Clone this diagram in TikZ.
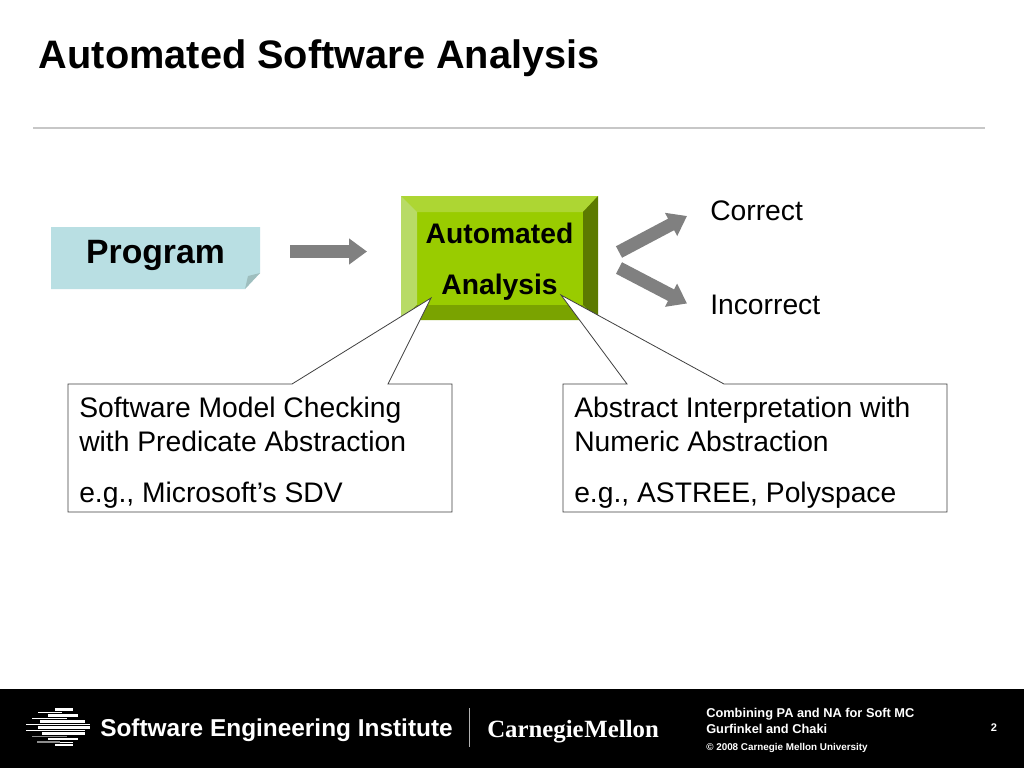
\documentclass[tikz,border=0pt]{standalone}
\usepackage{fontspec}
\setmainfont{Liberation Sans}
\newfontfamily\serifcm{Liberation Serif}
\usetikzlibrary{arrows.meta}
\tikzset{
 txt/.style={inner sep=0pt,anchor=base west,text=black,font=\fontsize{21.2}{25}\selectfont},
 blockarrow/.style={draw=arrowgray,line width=9.75pt,-{Triangle[length=13.5pt,width=18.75pt]}},
 callout/.style={draw=calloutline,fill=white,line width=0.6pt,line join=miter},
 foot/.style={inner sep=0pt,anchor=base west,text=white,font=\bfseries\fontsize{9.6}{11}\selectfont},
 thickstripe/.style={draw=white,line width=2pt},
 thinstripe/.style={draw=white,line width=0.6pt},
 graystripe/.style={draw=white!55!black,line width=1pt}
}
\definecolor{arrowgray}{HTML}{808080}
\definecolor{calloutline}{HTML}{404040}
\begin{document}
\begin{tikzpicture}[x=0.75pt,y=-0.75pt]
\useasboundingbox (0,0) rectangle (1024,768);
\fill[white] (0,0) rectangle (1024,768);
\fill[black] (0,689) rectangle (1024,768);
\draw[color=black!22,line width=0.8pt] (33,128) -- (985,128);
\node[inner sep=0pt,anchor=base west,font=\bfseries\fontsize{29.8}{34}\selectfont] (title) at (38.7,68) {Automated Software Analysis};
% Program
\fill[color={rgb,255:red,185;green,223;blue,227}] (51,227) -- (260,227) -- (260,273) -- (245,289) -- (51,289) -- cycle;
\fill[color={rgb,255:red,158;green,190;blue,190}] (260,273) -- (245,289) -- (248,276) -- cycle;
\node[inner sep=0pt,font=\bfseries\fontsize{25.3}{29}\selectfont,anchor=base] (program) at (155.5,263) {Program};
% Automated Analysis bevel
\fill[color={rgb,255:red,153;green,204;blue,0}] (401,196) rectangle (598,320);
\fill[color={rgb,255:red,173;green,214;blue,51}] (401,196) -- (598,196) -- (583,212) -- (417,212) -- cycle;
\fill[color={rgb,255:red,184;green,219;blue,102}] (401,196) -- (417,212) -- (417,305) -- (401,320) -- cycle;
\fill[color={rgb,255:red,92;green,122;blue,0}] (598,196) -- (583,212) -- (583,305) -- (598,320) -- cycle;
\fill[color={rgb,255:red,122;green,163;blue,0}] (401,320) -- (417,305) -- (583,305) -- (598,320) -- cycle;
\node[inner sep=0pt,font=\bfseries\fontsize{21.2}{25}\selectfont,anchor=base] (auto1) at (499.5,243.6) {Automated};
\node[inner sep=0pt,font=\bfseries\fontsize{21.2}{25}\selectfont,anchor=base] (auto2) at (499.5,294.6) {Analysis};
% Arrows
\coordinate (a0) at (290,251.5); \coordinate (a1) at (367,251.5);
\coordinate (b0) at (619,252); \coordinate (b1) at (687,216);
\coordinate (c0) at (619,268); \coordinate (c1) at (687,303.5);
\draw[blockarrow] (a0) -- (a1);
\draw[blockarrow] (b0) -- (b1);
\draw[blockarrow] (c0) -- (c1);
\node[txt] (correct) at (710,220.6) {Correct};
\node[txt] (incorrect) at (710,314.6) {Incorrect};
% Callouts
\draw[callout] (68,384) -- (292,384) -- (431,298) -- (388,384) -- (452,384) -- (452,512) -- (68,512) -- cycle;
\draw[callout] (563,384) -- (627,384) -- (561,295) -- (724,384) -- (947,384) -- (947,512) -- (563,512) -- cycle;
\node[txt] (l1) at (79,417) {Software Model Checking};
\node[txt] (l2) at (79,451) {with Predicate Abstraction};
\node[txt] (l3) at (79,502) {e.g., Microsoft’s SDV};
\node[txt] (r1) at (574,417) {Abstract Interpretation with};
\node[txt] (r2) at (574,451) {Numeric Abstraction};
\node[txt] (r3) at (574,502) {e.g., ASTREE, Polyspace};
% Footer logo
\draw[thickstripe] (55,709.7) -- (73,709.7);
\draw[thinstripe] (38,712.7) -- (62,712.7);
\draw[thickstripe] (48,715.5) -- (78,715.5);
\draw[thinstripe] (32,718.5) -- (67,718.5);
\draw[thickstripe] (40,721.5) -- (85,721.5);
\draw[thinstripe] (26,724.5) -- (90,724.5);
\draw[thickstripe] (38,727.5) -- (90,727.5);
\draw[thinstripe] (26,730.5) -- (85,730.5);
\draw[thickstripe] (42,733.5) -- (85,733.5);
\draw[graystripe] (32,736.3) -- (67,736.3);
\draw[thickstripe] (48,739) -- (78,739);
\draw[graystripe] (37,742) -- (60,742);
\draw[thinstripe] (60,742) -- (73,742);
\draw[thickstripe] (55,745) -- (73,745);
\node[inner sep=0pt,anchor=base west,text=white,font=\bfseries\fontsize{18.3}{21}\selectfont] (sei) at (100,736.5) {Software Engineering Institute};
\draw[color=white!70!black,line width=0.7pt] (469.5,708) -- (469.5,747);
\node[inner sep=0pt,anchor=base west,text=white,font=\serifcm\bfseries\fontsize{18.6}{22}\selectfont] (cmu) at (487,737) {\spaceskip=0.6pt\relax Carnegie Mellon};
\node[foot] (f1) at (706,717.5) {Combining PA and NA for Soft MC};
\node[foot] (f2) at (706,733.5) {Gurfinkel and Chaki};
\node[foot,font=\bfseries\fontsize{7.4}{9}\selectfont] (f3) at (706,750) {© 2008 Carnegie Mellon University};
\node[foot,font=\bfseries\fontsize{8.3}{10}\selectfont] (pg) at (990.5,731) {2};
\end{tikzpicture}
\end{document}
